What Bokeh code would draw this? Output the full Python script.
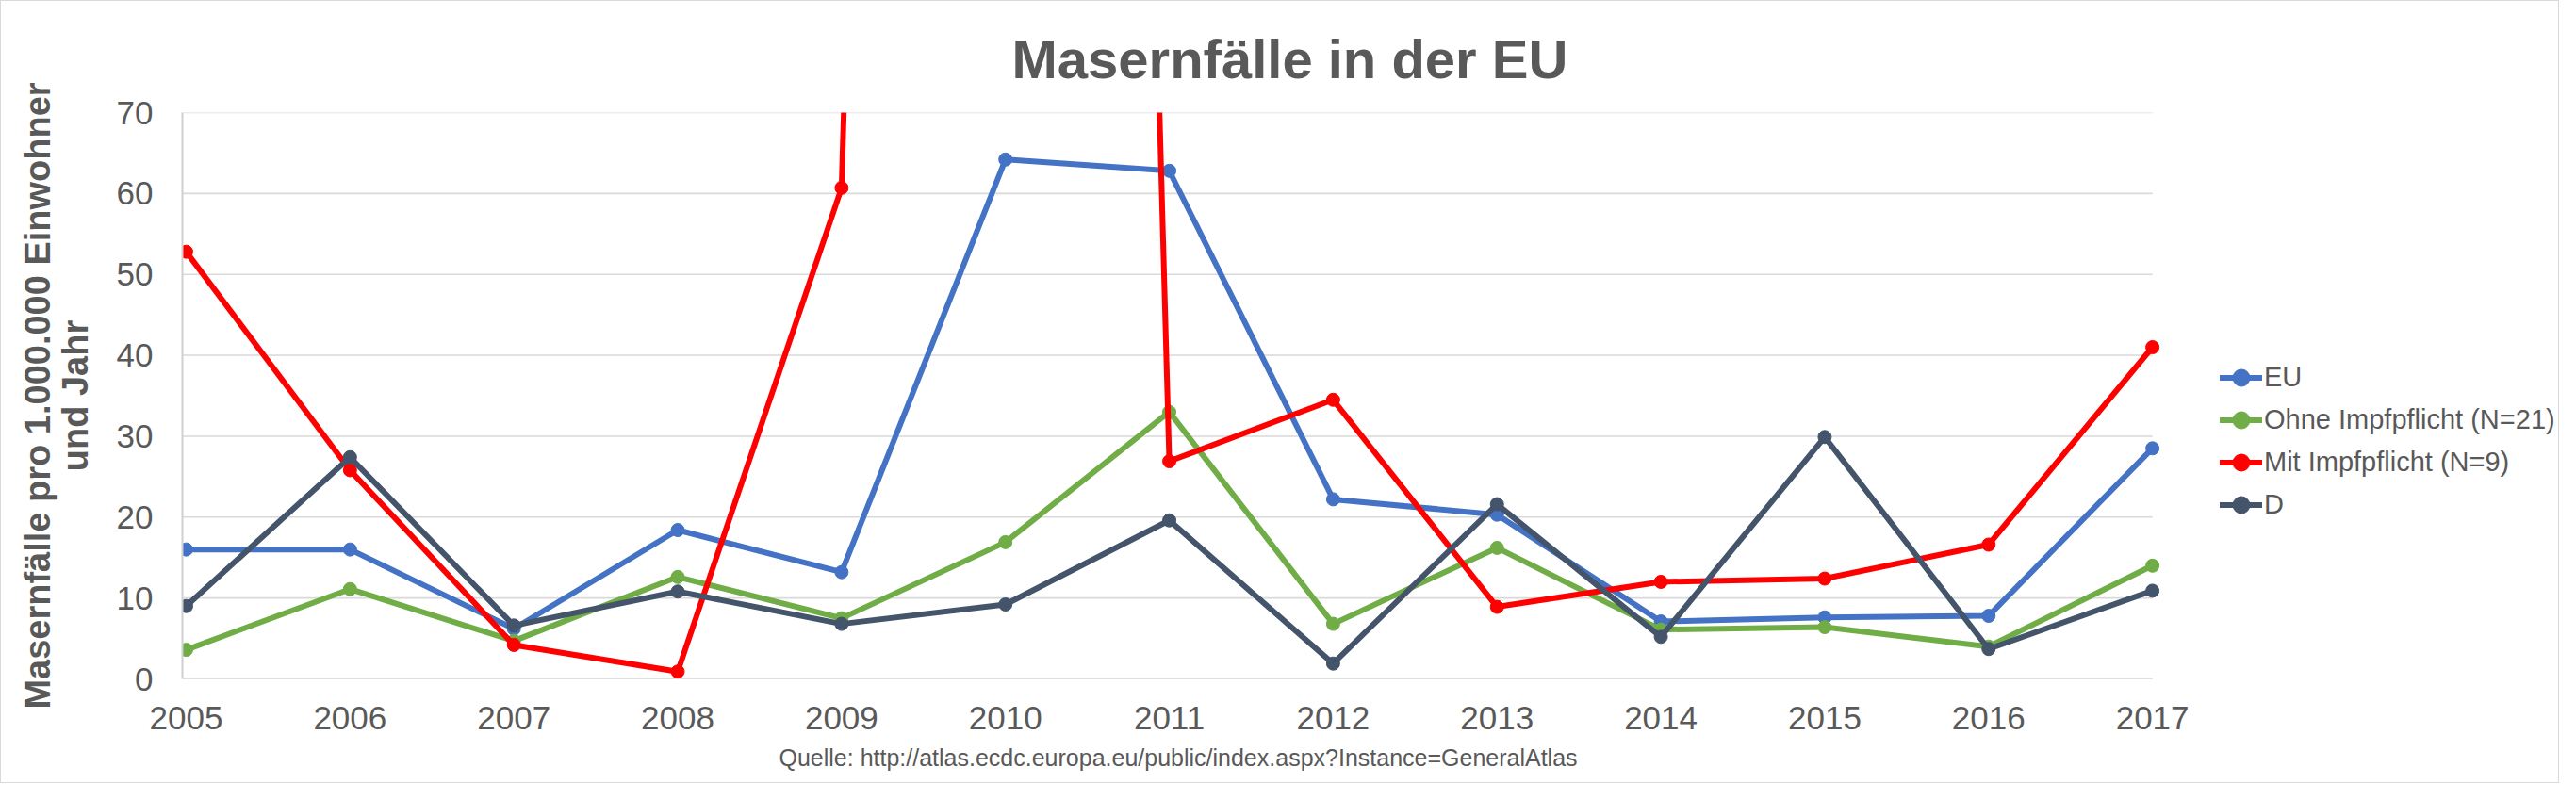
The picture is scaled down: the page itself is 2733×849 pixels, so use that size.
from bokeh.plotting import figure
from bokeh.models import Range1d, FixedTicker, Legend, LegendItem, Title
from bokeh.embed import file_html
from bokeh.resources import INLINE

years = [2005, 2006, 2007, 2008, 2009, 2010, 2011, 2012, 2013, 2014, 2015, 2016, 2017]
eu = [16.0, 16.0, 6.2, 18.4, 13.2, 64.2, 62.8, 22.2, 20.3, 7.1, 7.6, 7.8, 28.5]
ohne = [3.6, 11.1, 4.7, 12.6, 7.5, 16.9, 33.0, 6.8, 16.2, 6.1, 6.4, 4.0, 14.0]
mit = [52.8, 25.8, 4.2, 0.9, 60.7, 750.0, 26.9, 34.5, 8.9, 12.0, 12.4, 16.6, 41.0]
de = [9.0, 27.4, 6.6, 10.8, 6.8, 9.2, 19.6, 1.9, 21.6, 5.2, 29.9, 3.7, 10.9]
series_names = ["EU", "Ohne Impfpflicht (N=21)", "Mit Impfpflicht (N=9)", "D"]
series_colors = ["#4472C4", "#70AD47", "#FF0000", "#44546A"]
y_ticks = [0, 10, 20, 30, 40, 50, 60, 70]
grid_colors = ["#bfbfbf"] + ["#d9d9d9"] * 7

title_text = "Masernfälle in der EU"
y_label = "Masernfälle pro 1.000.000 Einwohner\nund Jahr"
source_text = "Quelle: http://atlas.ecdc.europa.eu/public/index.aspx?Instance=GeneralAtlas"

FONT = "Liberation Sans"
GREY = "#595959"

# x range: the plot frame also hosts the legend area to the right of 2017
X_START, X_END = 2004.977, 2019.49

W, H = 2715, 831
p = figure(width=W, height=H, output_backend="svg", toolbar_location=None,
           x_range=Range1d(X_START, X_END), y_range=Range1d(0, 70),
           min_border_left=192, min_border_right=0, min_border_top=118, min_border_bottom=111,
           background_fill_color="white", border_fill_color="white")
p.styles = {"border": "1px solid #d9d9d9"}
p.outline_line_color = None

p.title.text = title_text
p.title.text_font = FONT
p.title.text_font_size = "58px"
p.title.text_font_style = "bold"
p.title.text_color = GREY
p.title.align = "left"
p.title.offset = 880
p.title.standoff = 50

p.xaxis.ticker = FixedTicker(ticks=years)
p.yaxis.ticker = FixedTicker(ticks=y_ticks)
for ax in (p.xaxis, p.yaxis):
    ax.major_tick_line_color = None
    ax.minor_tick_line_color = None
    ax.major_tick_out = 0
    ax.major_tick_in = 0
    ax.major_label_text_font = FONT
    ax.major_label_text_font_size = "35px"
    ax.major_label_text_color = GREY
p.xaxis.axis_line_color = None
p.yaxis.axis_line_color = "#d0d0d0"
p.yaxis.axis_line_width = 2
p.xaxis.major_label_standoff = 29
p.yaxis.major_label_standoff = 31

p.yaxis.axis_label = y_label
p.yaxis.axis_label_text_font = FONT
p.yaxis.axis_label_text_font_size = "38px"
p.yaxis.axis_label_text_font_style = "bold"
p.yaxis.axis_label_text_color = GREY
p.yaxis.axis_label_text_line_height = 0.95
p.yaxis.axis_label_standoff = 20

p.xgrid.grid_line_color = None
p.ygrid.grid_line_color = None

# horizontal gridlines (and the category-axis baseline) spanning the category range only
p.segment(x0=[X_START] * len(y_ticks), x1=[years[-1]] * len(y_ticks),
          y0=y_ticks, y1=y_ticks, line_color=grid_colors, line_width=1.6)

items = []
for name, vals, col in zip(series_names, [eu, ohne, mit, de], series_colors):
    ln = p.line(years, vals, line_color=col, line_width=6, line_join="round", line_cap="round")
    sc = p.scatter(years, vals, marker="circle", size=14, fill_color=col, line_color=col)
    items.append(LegendItem(label=name, renderers=[ln, sc]))

legend = Legend(items=items, location=(2162, 162), orientation="vertical",
                glyph_width=45, glyph_height=45, label_height=45, spacing=0,
                label_standoff=2, padding=0, margin=0,
                label_text_font=FONT, label_text_font_size="29px", label_text_color=GREY,
                border_line_color=None, background_fill_alpha=0)
p.add_layout(legend, "center")

src = Title(text=source_text, align="left", offset=633, standoff=26, vertical_align="top",
            text_font=FONT, text_font_size="25px", text_font_style="normal", text_color=GREY)
p.add_layout(src, "below")

open("out.html", "w").write(file_html(p, INLINE))
